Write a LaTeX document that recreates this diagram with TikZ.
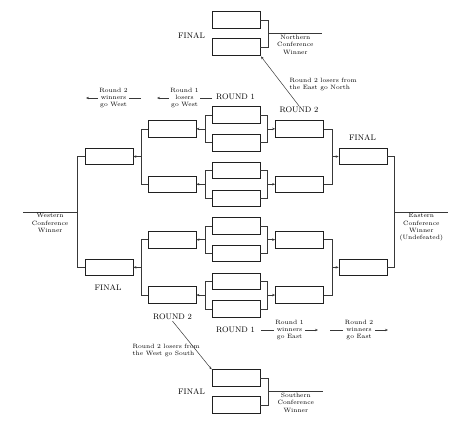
\documentclass[tikz,border=0pt]{standalone}
\usetikzlibrary{calc, arrows.meta}

\begin{document}
\begin{tikzpicture}[x=1pt, y=-1pt,
    slot/.style={draw=borderColour, line width=0.7pt, minimum width=48pt, minimum height=16.5pt, inner sep=0pt},
    wire/.style={draw=lineColour, line width=0.5pt},
    arr/.style={wire, -{Stealth[length=3pt, width=2.4pt]}},
    heading/.style={font=\fontsize{8}{9}\selectfont, inner sep=1pt},
    note/.style={font=\fontsize{6.2}{7.3}\selectfont, align=center, inner sep=1.5pt},
    gapnote/.style={note, fill=white}]

    % Define colours and spacing
    \definecolor{borderColour}{HTML}{202020}
    \definecolor{lineColour}{HTML}{383838}
    \def\rowStep{27.7}

    \useasboundingbox (0,0) rectangle (474,426);

    % Draw the round 1 slots
    \foreach \i in {1,...,8}
        \node[slot] (r1-\i) at (236, {115+\rowStep*(\i-1)}) {};

    % Draw the round 2 slots, west and east
    \foreach \i in {1,...,4} {
        \pgfmathtruncatemacro{\a}{2*\i-1}
        \pgfmathtruncatemacro{\b}{2*\i}
        \node[slot] (wl-\i) at ($(r1-\a)!0.5!(r1-\b)+(-64,0)$) {};
        \node[slot] (el-\i) at ($(r1-\a)!0.5!(r1-\b)+(63.5,0)$) {};
    }

    % Draw the conference final slots
    \foreach \i in {1,2} {
        \pgfmathtruncatemacro{\a}{2*\i-1}
        \pgfmathtruncatemacro{\b}{2*\i}
        \node[slot] (lf-\i) at ($(wl-\a)!0.5!(wl-\b)+(-63,0)$) {};
        \node[slot] (ef-\i) at ($(el-\a)!0.5!(el-\b)+(63.5,0)$) {};
    }

    % Draw the north and south final slots
    \node[slot] (n1) at (236,20) {};
    \node[slot] (n2) at (236,47) {};
    \node[slot] (s1) at (236,378) {};
    \node[slot] (s2) at (236,405) {};

    % Brackets from round 1
    \foreach \i in {1,...,4} {
        \pgfmathtruncatemacro{\a}{2*\i-1}
        \pgfmathtruncatemacro{\b}{2*\i}
        \draw[wire] (r1-\a.west) -- ++(-6,0) coordinate (lb) |- (r1-\b.west);
        \draw[arr] (lb |- wl-\i.east) -- (wl-\i.east);
        \draw[wire] (r1-\a.east) -- ++(7,0) coordinate (rb) |- (r1-\b.east);
        \draw[arr] (rb |- el-\i.west) -- (el-\i.west);
    }

    % Brackets from round 2
    \foreach \i in {1,2} {
        \pgfmathtruncatemacro{\a}{2*\i-1}
        \pgfmathtruncatemacro{\b}{2*\i}
        \draw[wire] (wl-\a.west) -- ++(-6,0) coordinate (lb) |- (wl-\b.west);
        \draw[arr] (lb |- lf-\i.east) -- (lf-\i.east);
        \draw[wire] (el-\a.east) -- ++(8,0) coordinate (rb) |- (el-\b.east);
        \draw[arr] (rb |- ef-\i.west) -- (ef-\i.west);
    }

    % Conference winners, west and east
    \draw[wire] (lf-1.west) -- ++(-7,0) |- (lf-2.west);
    \coordinate (westMid) at ($(lf-1.west)!0.5!(lf-2.west)+(-7,0)$);
    \draw[wire] (westMid) -- node[note, below] (westLbl) {Western\\Conference\\Winner} ++(-55,0);

    \draw[wire] (ef-1.east) -- ++(7,0) |- (ef-2.east);
    \coordinate (eastMid) at ($(ef-1.east)!0.5!(ef-2.east)+(7,0)$);
    \draw[wire] (eastMid) -- node[note, below] (eastLbl) {Eastern\\Conference\\Winner\\(Undefeated)} ++(54,0);

    % Conference winners, north and south
    \draw[wire] (n1.east) -- ++(8,0) |- (n2.east);
    \coordinate (northMid) at ($(n1.east)!0.5!(n2.east)+(8,0)$);
    \draw[wire] (northMid) -- node[note, below] (northLbl) {Northern\\Conference\\Winner} ++(54,0);

    \draw[wire] (s1.east) -- ++(8,0) |- (s2.east);
    \coordinate (southMid) at ($(s1.east)!0.5!(s2.east)+(8,0)$);
    \draw[wire] (southMid) -- node[note, below] (southLbl) {Southern\\Conference\\Winner} ++(55,0);

    % Round and final headings
    \node[heading] (finalNorth) at (191.5,36) {FINAL};
    \node[heading] (finalEast) at (362.5,138) {FINAL};
    \node[heading] (finalWest) at (108,288) {FINAL};
    \node[heading] (finalSouth) at (191.5,392) {FINAL};
    \node[heading] (round1Top) at (235.5,97) {ROUND 1};
    \node[heading] (round2Top) at (299,110) {ROUND 2};
    \node[heading] (round2Bot) at (172.5,317) {ROUND 2};
    \node[heading] (round1Bot) at (235.5,330) {ROUND 1};

    % Losers moving north and south
    \node[note, anchor=west, align=left] (eastNote) at (288,84.5) {Round 2 losers from\\the East go North};
    \draw[arr, shorten >=1pt] (round2Top.north) -- (n2.south east);
    \node[note, anchor=west, align=left] (westNote) at (131,350.5) {Round 2 losers from\\the West go South};
    \draw[arr] (round2Bot.south) -- (s1.north west);

    % Winners and losers moving west and east
    \coordinate (r1WestStart) at (212,98);
    \coordinate (r1WestTip) at (157,98);
    \coordinate (r2WestStart) at (141,98);
    \coordinate (r2WestTip) at (86,98);
    \coordinate (r1EastStart) at (261,330);
    \coordinate (r1EastTip) at (318,330);
    \coordinate (r2EastStart) at (330,330);
    \coordinate (r2EastTip) at (388,330);

    \draw[arr] (r1WestStart) -- node[gapnote] (r1WestLbl) {Round 1\\losers\\go West} (r1WestTip);
    \draw[arr] (r2WestStart) -- node[gapnote] (r2WestLbl) {Round 2\\winners\\go West} (r2WestTip);
    \draw[arr] (r1EastStart) -- node[gapnote] (r1EastLbl) {Round 1\\winners\\go East} (r1EastTip);
    \draw[arr] (r2EastStart) -- node[gapnote] (r2EastLbl) {Round 2\\winners\\go East} (r2EastTip);

\end{tikzpicture}
\end{document}
